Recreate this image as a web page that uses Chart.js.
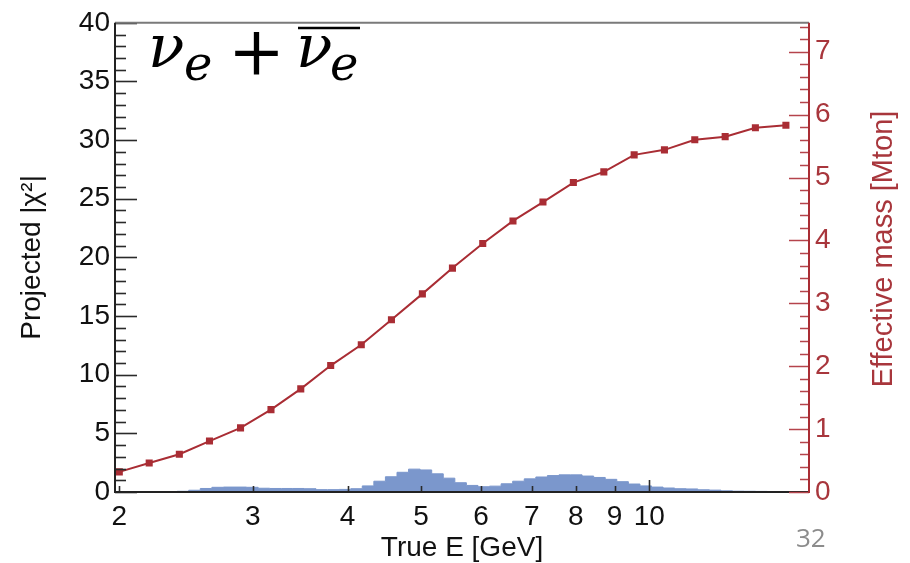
<!DOCTYPE html>
<html>
<head>
<meta charset="utf-8">
<script src="https://cdn.jsdelivr.net/npm/chart.js@4/dist/chart.umd.min.js"></script>
<style>
  html, body { margin: 0; padding: 0; background: #ffffff; }
  #wrap { width: 910px; height: 563px; }
</style>
</head>
<body>
<div id="wrap"><canvas id="c" width="910" height="563"></canvas></div>
<script>
// Effective detector mass versus true neutrino energy
const massEnergy = [2.00, 2.19, 2.40, 2.63, 2.89, 3.17, 3.47, 3.80, 4.17, 4.57, 5.02, 5.50,
                    6.03, 6.61, 7.24, 7.94, 8.71, 9.55, 10.47, 11.48, 12.59, 13.80, 15.14];
const effectiveMass = [0.32, 0.46, 0.60, 0.81, 1.02, 1.31, 1.64, 2.01, 2.34, 2.74, 3.15, 3.56,
                       3.95, 4.31, 4.61, 4.92, 5.09, 5.36, 5.44, 5.60, 5.65, 5.79, 5.83];

// Projected |chi^2| histogram: bin edges (GeV) and bin contents
const chi2BinEdges = [2.000, 2.0715, 2.1456, 2.2223, 2.3018, 2.3841, 2.4693, 2.5576, 2.6491, 2.7438,
                      2.8419, 2.9435, 3.0488, 3.1578, 3.2707, 3.3877, 3.5088, 3.6343, 3.7642, 3.8988,
                      4.0383, 4.1827, 4.3322, 4.4871, 4.6476, 4.8138, 4.9859, 5.1642, 5.3488, 5.5401,
                      5.7382, 5.9434, 6.1559, 6.3761, 6.6040, 6.8402, 7.0848, 7.3381, 7.6005, 7.8723,
                      8.1538, 8.4454, 8.7474, 9.0601, 9.3841, 9.7197, 10.067, 10.427, 10.800, 11.186,
                      11.586, 12.001, 12.430, 12.874, 13.335, 13.811, 14.305, 14.817, 15.347, 15.895,
                      16.464];
const chi2Values = [0.00, 0.03, 0.03, 0.03, 0.04, 0.06, 0.15, 0.30, 0.40, 0.42,
                    0.42, 0.40, 0.32, 0.30, 0.30, 0.30, 0.28, 0.20, 0.20, 0.22,
                    0.28, 0.52, 0.92, 1.30, 1.68, 1.95, 1.88, 1.55, 1.18, 0.79,
                    0.56, 0.45, 0.50, 0.70, 0.92, 1.12, 1.28, 1.40, 1.46, 1.46,
                    1.36, 1.24, 1.08, 0.88, 0.68, 0.52, 0.42, 0.34, 0.28, 0.26,
                    0.19, 0.16, 0.10, 0.07, 0.06, 0.05, 0.03, 0.01, 0.00, 0.00];

// Axis ticks
const xTickValues = [2, 3, 4, 5, 6, 7, 8, 9, 10];
const xTickLabels = ['2', '3', '4', '5', '6', '7', '8', '9', '10'];
const chi2TickValues = [0, 5, 10, 15, 20, 25, 30, 35, 40];
const massTickValues = [0, 1, 2, 3, 4, 5, 6, 7];

const RED = '#a92d34';
const RED_TEXT = '#a8363c';
const BLUE = '#7b97cc';
const SANS = '"Liberation Sans", Arial, Helvetica, sans-serif';
const SERIF = '"DejaVu Serif", serif';

// step-histogram points: one per left bin edge plus the closing edge
const histPoints = chi2Values.map((v, i) => ({ x: chi2BinEdges[i], y: v }));
histPoints.push({ x: chi2BinEdges[chi2BinEdges.length - 1], y: chi2Values[chi2Values.length - 1] });
const massPoints = massEnergy.map((e, i) => ({ x: e, y: effectiveMass[i] }));

// Frame and inward-pointing tick marks, drawn over the data
const frameTicks = {
  id: 'frameTicks',
  afterDatasetsDraw(chart) {
    const { ctx, chartArea: a, scales } = chart;
    const x = scales.x, y = scales.y, y1 = scales.y1;
    ctx.save();
    ctx.lineCap = 'butt';

    // left axis ticks (major every 5, minor every 1)
    ctx.strokeStyle = '#2a2a2a';
    for (let v = 0; v <= 40; v += 1) {
      const p = Math.round(y.getPixelForValue(v)) + 0.5;
      const len = v % 5 === 0 ? 22 : 11;
      ctx.lineWidth = 1.6;
      ctx.beginPath(); ctx.moveTo(a.left, p); ctx.lineTo(a.left + len, p); ctx.stroke();
    }
    // bottom axis ticks
    xTickValues.forEach(v => {
      const p = Math.round(x.getPixelForValue(v)) + 0.5;
      const len = v === 10 ? 12 : 6;
      ctx.lineWidth = 1.6;
      ctx.beginPath(); ctx.moveTo(p, a.bottom); ctx.lineTo(p, a.bottom - len); ctx.stroke();
    });

    // frame
    ctx.lineWidth = 2;
    ctx.strokeStyle = '#7a7a7a';
    ctx.beginPath(); ctx.moveTo(a.left, a.top); ctx.lineTo(a.right, a.top); ctx.stroke();
    ctx.strokeStyle = '#222222';
    ctx.beginPath(); ctx.moveTo(a.left, a.top); ctx.lineTo(a.left, a.bottom + 1); ctx.stroke();
    ctx.beginPath(); ctx.moveTo(a.left, a.bottom); ctx.lineTo(a.right, a.bottom); ctx.stroke();

    // right axis ticks (major every 1, minor every 0.2)
    ctx.strokeStyle = '#b5444c';
    for (let k = 0; k <= 37; k++) {
      const v = k * 0.2;
      if (v > y1.max) break;
      const p = Math.round(y1.getPixelForValue(v)) + 0.5;
      const len = k % 5 === 0 ? 20 : 9;
      ctx.lineWidth = 1.5;
      ctx.beginPath(); ctx.moveTo(a.right, p); ctx.lineTo(a.right - len, p); ctx.stroke();
    }
    ctx.strokeStyle = RED;
    ctx.lineWidth = 2;
    ctx.beginPath(); ctx.moveTo(a.right, a.top); ctx.lineTo(a.right, a.bottom + 1); ctx.stroke();
    ctx.restore();
  }
};

// Right-axis title (reads bottom-to-top), channel label and page number
const annotations = {
  id: 'annotations',
  afterDraw(chart) {
    const { ctx } = chart;
    ctx.save();
    ctx.fillStyle = RED_TEXT;
    ctx.font = '29px ' + SANS;
    ctx.textAlign = 'center';
    ctx.textBaseline = 'middle';
    ctx.translate(884, 249);
    ctx.rotate(-Math.PI / 2);
    ctx.fillText('Effective mass [Mton]', 0, 0);
    ctx.restore();

    // nu_e + anti-nu_e
    ctx.save();
    ctx.fillStyle = '#000';
    ctx.textAlign = 'left';
    ctx.textBaseline = 'alphabetic';
    ctx.font = 'italic 60px ' + SERIF;
    ctx.fillText('ν', 148, 67);
    ctx.fillText('ν', 296, 67);
    ctx.font = 'italic 48px ' + SERIF;
    ctx.fillText('e', 184, 80);
    ctx.fillText('e', 330, 80);
    ctx.font = '68px ' + SERIF;
    ctx.fillText('+', 228, 74);
    ctx.strokeStyle = '#000';
    ctx.lineWidth = 2.5;
    ctx.beginPath(); ctx.moveTo(298, 28); ctx.lineTo(360, 28); ctx.stroke();

    ctx.fillStyle = '#8c8c8c';
    ctx.font = '26px "Open Sans", ' + SANS;
    ctx.fillText('32', 796, 547);
    ctx.restore();
  }
};

new Chart(document.getElementById('c'), {
  type: 'line',
  data: {
    datasets: [
      {
        label: 'Effective mass',
        data: massPoints,
        yAxisID: 'y1',
        borderColor: RED,
        backgroundColor: RED,
        borderWidth: 2,
        pointStyle: 'rect',
        pointRadius: 5,
        pointBorderWidth: 0,
        tension: 0,
        fill: false,
        order: 0
      },
      {
        label: 'Projected |χ²|',
        data: histPoints,
        yAxisID: 'y',
        stepped: true,
        borderColor: BLUE,
        borderWidth: 1,
        backgroundColor: BLUE,
        pointRadius: 0,
        fill: 'origin',
        order: 1
      }
    ]
  },
  options: {
    responsive: false,
    devicePixelRatio: 1,
    animation: false,
    events: [],
    layout: { padding: { top: 15, left: 0, right: 0, bottom: 0 } },
    plugins: { legend: { display: false }, tooltip: { enabled: false } },
    scales: {
      x: {
        type: 'logarithmic',
        position: 'bottom',
        min: 1.974,
        max: 16.24,
        grid: { display: false, drawTicks: false },
        border: { display: false },
        afterBuildTicks: s => { s.ticks = xTickValues.map(v => ({ value: v })); },
        afterFit: s => { s.height = 71; },
        ticks: {
          autoSkip: false, maxRotation: 0, padding: 8, color: '#111',
          font: { family: SANS, size: 28 },
          callback: v => xTickLabels[xTickValues.indexOf(v)] ?? ''
        },
        title: {
          display: true, text: 'True E [GeV]', color: '#111',
          font: { family: SANS, size: 28, lineHeight: 1 },
          padding: { top: 0, bottom: 1 }
        }
      },
      y: {
        position: 'left',
        min: 0, max: 40,
        grid: { display: false, drawTicks: false },
        border: { display: false },
        afterBuildTicks: s => { s.ticks = chi2TickValues.map(v => ({ value: v })); },
        afterFit: s => { s.width = 115; },
        ticks: { padding: 5, color: '#111', font: { family: SANS, size: 28 } },
        title: {
          display: true, text: 'Projected |χ²|', color: '#111',
          font: { family: SANS, size: 28, lineHeight: 1 },
          padding: { top: 18, bottom: 0 }
        }
      },
      y1: {
        position: 'right',
        min: 0, max: 7.46,
        grid: { display: false, drawTicks: false },
        border: { display: false },
        afterBuildTicks: s => { s.ticks = massTickValues.map(v => ({ value: v })); },
        afterFit: s => { s.width = 101; },
        ticks: { padding: 6, color: RED_TEXT, font: { family: SANS, size: 28 } },
        title: { display: false }
      }
    }
  },
  plugins: [frameTicks, annotations]
});
</script>
</body>
</html>
